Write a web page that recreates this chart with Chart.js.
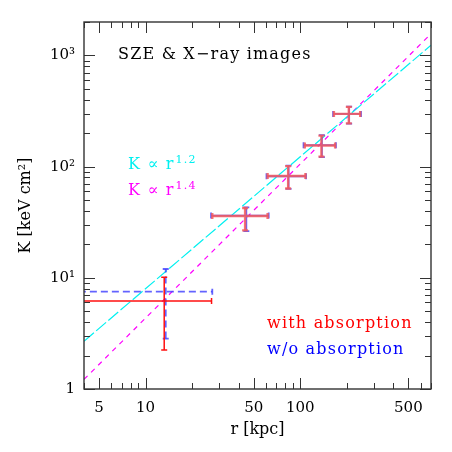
<!DOCTYPE html>
<html>
<head>
<meta charset="utf-8">
<script src="https://cdn.jsdelivr.net/npm/chart.js@4.4.1/dist/chart.umd.min.js"></script>
<style>
html, body { margin: 0; padding: 0; background: #fff; }
#wrap { width: 452px; height: 452px; }
</style>
</head>
<body>
<div id="wrap"><canvas id="chart-area" width="452" height="452"></canvas></div>
<script>
var xTicks = [5, 10, 50, 100, 500];
var yTicks = [1, 10, 100, 1000];
var yTickLabels = ['1', '10\u00b9', '10\u00b2', '10\u00b3'];

// with absorption (red)
var rRed = [13.2, 44, 83.5, 137, 206];
var kRed = [6.2, 36, 82.5, 155, 298];
var rRedLo = [1, 27, 61.5, 107, 165];
var rRedHi = [26.7, 61.5, 108, 168, 244];
var kRedLo = [2.24, 26.7, 63.5, 123, 245];
var kRedHi = [10.1, 42.4, 101, 190, 345];

// w/o absorption (blue)
var rBlue = [13.5, 44.8, 84, 138, 207];
var kBlue = [7.5, 36.3, 82, 156, 298];
var rBlueLo = [1, 26.5, 60.5, 105, 163];
var rBlueHi = [27, 62.5, 109, 170, 247];
var kBlueLo = [2.84, 26.3, 63, 122, 244];
var kBlueHi = [12.0, 43, 102, 192, 347];

// power law lines, end points
var cyanR = [4, 700];
var cyanK = [2.69, 1237];
var magentaR = [4, 700];
var magentaK = [1.22, 1567];

var serif = "'DejaVu Serif', 'Liberation Serif', serif";

function minorValues(lo, hi) {
	var out = [];
	for (var d = 1; d <= 1000; d *= 10) {
		for (var m = 1; m <= 9; m++) {
			var v = d * m;
			if (v >= lo && v <= hi) out.push(v);
		}
	}
	return out;
}

function pts(xa, ya) {
	return xa.map(function(x, i) { return {x: x, y: ya[i]}; });
}

var frameTicks = {
	id: 'frameTicks',
	afterDraw: function(chart) {
		var ctx = chart.ctx, a = chart.chartArea;
		var xs = chart.scales.x, ys = chart.scales.y;
		ctx.save();
		ctx.strokeStyle = '#333';
		ctx.lineWidth = 1;
		ctx.beginPath();
		minorValues(xs.min, xs.max).forEach(function(v) {
			var p = Math.round(xs.getPixelForValue(v)) + 0.5;
			var len = xTicks.indexOf(v) >= 0 ? 11 : 6;
			ctx.moveTo(p, a.bottom); ctx.lineTo(p, a.bottom - len);
			ctx.moveTo(p, a.top); ctx.lineTo(p, a.top + len);
		});
		minorValues(ys.min, ys.max).forEach(function(v) {
			var p = Math.round(ys.getPixelForValue(v)) + 0.5;
			var len = yTicks.indexOf(v) >= 0 ? 11 : 6;
			ctx.moveTo(a.left, p); ctx.lineTo(a.left + len, p);
			ctx.moveTo(a.right, p); ctx.lineTo(a.right - len, p);
		});
		ctx.stroke();
		ctx.lineWidth = 1.4;
		ctx.strokeRect(a.left, a.top, a.right - a.left, a.bottom - a.top);
		ctx.restore();
	}
};

function drawBar(ctx, xs, ys, r, k, rLo, rHi, kLo, kHi, i, dash) {
	var x = xs.getPixelForValue(r[i]), y = ys.getPixelForValue(k[i]);
	var x0 = xs.getPixelForValue(rLo[i]), x1 = xs.getPixelForValue(rHi[i]);
	var y0 = ys.getPixelForValue(kLo[i]), y1 = ys.getPixelForValue(kHi[i]);
	var c = 3;
	ctx.setLineDash(dash);
	ctx.beginPath();
	ctx.moveTo(x0, y); ctx.lineTo(x1, y);
	ctx.moveTo(x, y0); ctx.lineTo(x, y1);
	ctx.stroke();
	ctx.setLineDash([]);
	ctx.beginPath();
	ctx.moveTo(x0, y - c); ctx.lineTo(x0, y + c);
	ctx.moveTo(x1, y - c); ctx.lineTo(x1, y + c);
	ctx.moveTo(x - c, y0); ctx.lineTo(x + c, y0);
	ctx.moveTo(x - c, y1); ctx.lineTo(x + c, y1);
	ctx.stroke();
}

var errorBars = {
	id: 'errorBars',
	afterDatasetsDraw: function(chart) {
		var ctx = chart.ctx, a = chart.chartArea;
		var xs = chart.scales.x, ys = chart.scales.y;
		ctx.save();
		ctx.beginPath();
		ctx.rect(a.left, a.top, a.right - a.left, a.bottom - a.top);
		ctx.clip();
		ctx.lineWidth = 1.8;
		ctx.strokeStyle = 'rgba(60,60,255,0.8)';
		for (var i = 0; i < rBlue.length; i++) {
			drawBar(ctx, xs, ys, rBlue, kBlue, rBlueLo, rBlueHi, kBlueLo, kBlueHi, i, i == 0 ? [7, 4] : []);
		}
		for (var j = 0; j < rRed.length; j++) {
			// first point is drawn crisp, the rest light and thick like the original
			ctx.lineWidth = j == 0 ? 1.5 : 2.4;
			ctx.strokeStyle = j == 0 ? '#ff1010' : 'rgba(245,90,90,0.85)';
			drawBar(ctx, xs, ys, rRed, kRed, rRedLo, rRedHi, kRedLo, kRedHi, j, []);
		}
		ctx.restore();
	}
};

function powerLabel(ctx, x, y, exp, color) {
	ctx.fillStyle = color;
	ctx.font = '16px ' + serif;
	ctx.fillText('K \u221d r', x, y);
	var w = ctx.measureText('K \u221d r').width;
	ctx.font = '11px ' + serif;
	ctx.fillText(exp, x + w + 1, y - 6);
}

var notes = {
	id: 'notes',
	afterDraw: function(chart) {
		var ctx = chart.ctx;
		ctx.save();
		ctx.textBaseline = 'alphabetic';
		ctx.textAlign = 'left';
		ctx.letterSpacing = '1.2px';
		ctx.font = '16px ' + serif;
		ctx.fillStyle = '#000';
		ctx.fillText('SZE & X\u2212ray images', 118, 59);
		powerLabel(ctx, 128, 169, '1.2', '#00f0f0');
		powerLabel(ctx, 128, 195, '1.4', '#ff00ff');
		ctx.font = '16px ' + serif;
		ctx.fillStyle = '#ff0000';
		ctx.fillText('with absorption', 267, 328);
		ctx.fillStyle = '#0000ff';
		ctx.fillText('w/o absorption', 267, 354);
		ctx.restore();
	}
};

var config = {
	type: 'scatter',
	data: {
		datasets: [{
			label: 'K ~ r^1.2',
			data: pts(cyanR, cyanK),
			showLine: true,
			borderColor: '#00f0f0',
			borderWidth: 1.2,
			borderDash: [13, 3],
			pointRadius: 0
		}, {
			label: 'K ~ r^1.4',
			data: pts(magentaR, magentaK),
			showLine: true,
			borderColor: '#ff00ff',
			borderWidth: 1.2,
			borderDash: [5, 5],
			pointRadius: 0
		}]
	},
	options: {
		responsive: false,
		animation: false,
		layout: { padding: { top: 22, right: 21, left: 0, bottom: 0 } },
		plugins: {
			legend: { display: false },
			tooltip: { enabled: false }
		},
		scales: {
			x: {
				type: 'logarithmic',
				min: 4,
				max: 700,
				grid: { display: false, drawTicks: false },
				border: { display: false },
				afterFit: function(s) { s.height = 63; },
				afterBuildTicks: function(s) {
					s.ticks = xTicks.map(function(v) { return {value: v}; });
				},
				ticks: {
					color: '#000',
					padding: 10,
					maxRotation: 0,
					autoSkip: false,
					font: { family: serif, size: 15 },
					callback: function(v) { return String(v); }
				},
				title: {
					display: true,
					text: 'r [kpc]',
					color: '#000',
					font: { family: serif, size: 16 },
					padding: { top: 0, bottom: 13 }
				}
			},
			y: {
				type: 'logarithmic',
				min: 1,
				max: 2000,
				grid: { display: false, drawTicks: false },
				border: { display: false },
				afterFit: function(s) { s.width = 84; },
				afterBuildTicks: function(s) {
					s.ticks = yTicks.map(function(v) { return {value: v}; });
				},
				ticks: {
					color: '#000',
					padding: 9,
					autoSkip: false,
					font: { family: serif, size: 15 },
					callback: function(v) {
						var i = yTicks.indexOf(v);
						return i >= 0 ? yTickLabels[i] : '';
					}
				},
				title: {
					display: true,
					text: 'K [keV cm\u00b2]',
					color: '#000',
					font: { family: serif, size: 16 },
					padding: { top: 16, bottom: 0 }
				}
			}
		}
	},
	plugins: [errorBars, frameTicks, notes]
};

window.onload = function() {
	var ctx = document.getElementById('chart-area').getContext('2d');
	window.myChart = new Chart(ctx, config);
};
</script>
</body>
</html>
